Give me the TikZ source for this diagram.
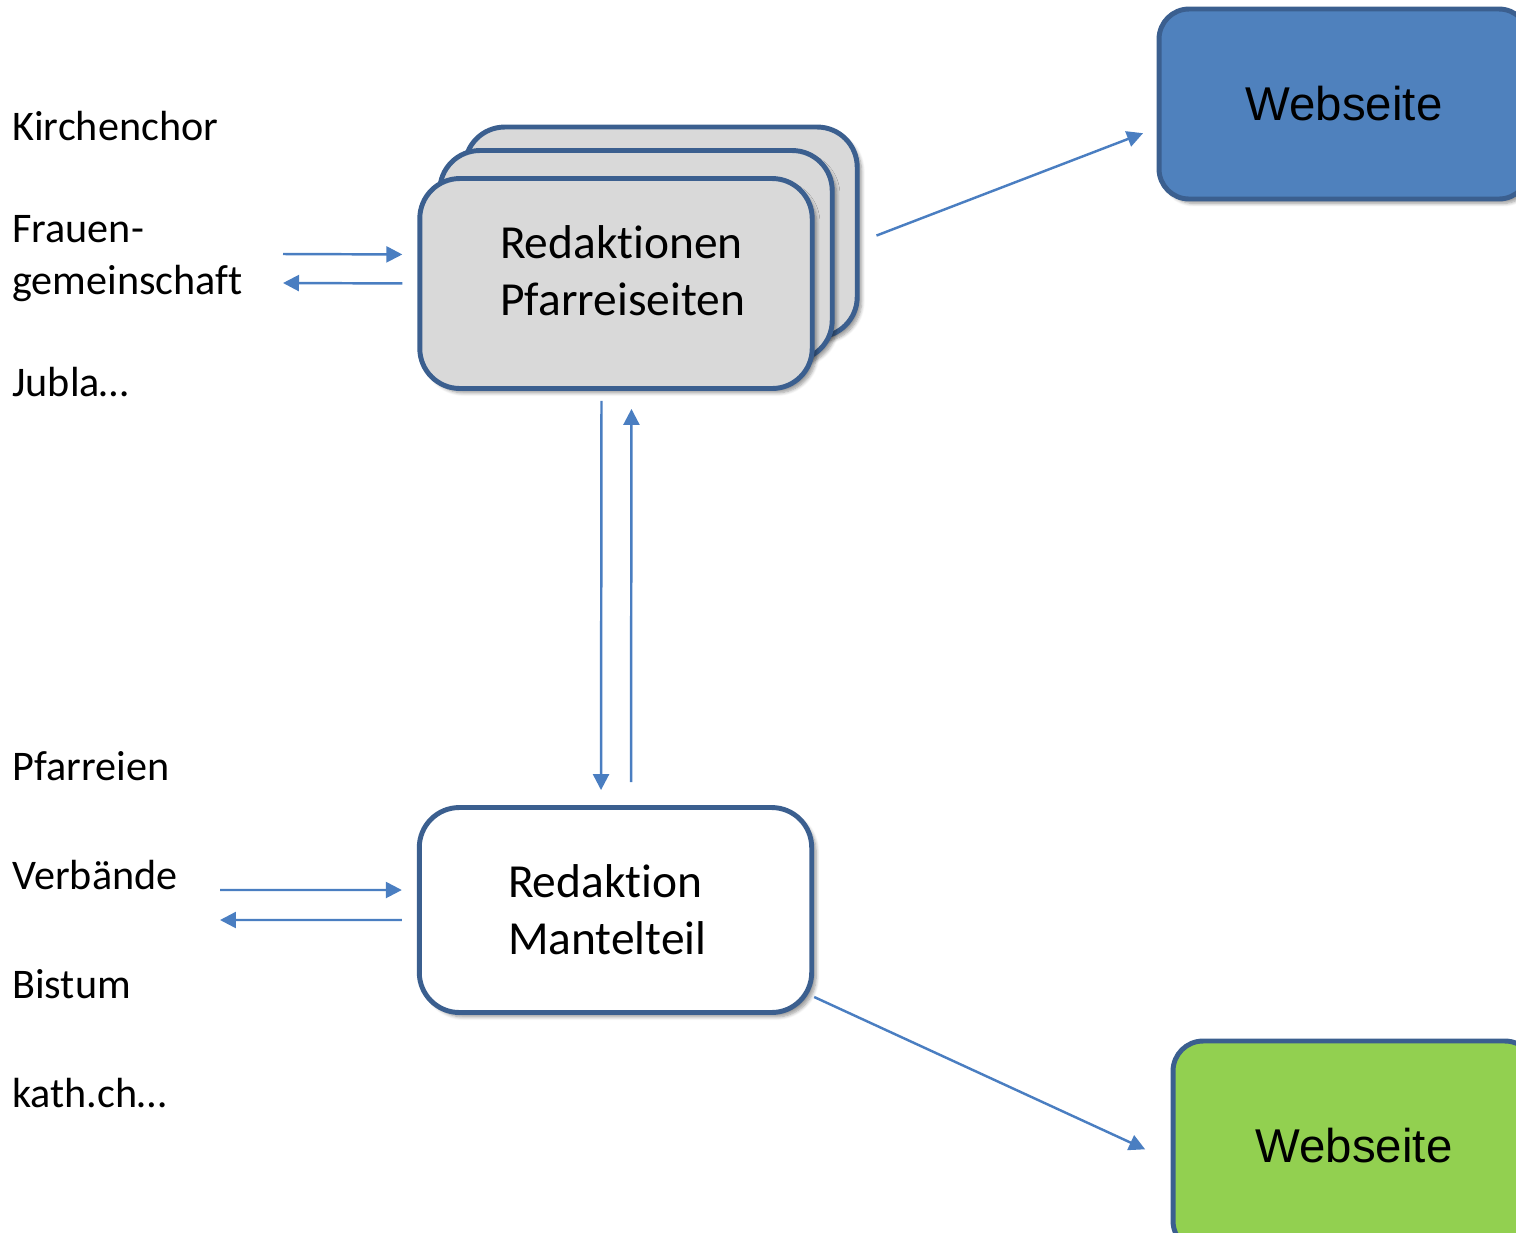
\documentclass[tikz,border=0pt]{standalone}
\usepackage{fontspec}
\setmainfont{Carlito}[Ligatures={NoCommon,NoContextual},RawFeature={-clig;-calt;-dlig}]
\newfontfamily\webfont{Liberation Sans}
\usetikzlibrary{shapes}
\usetikzlibrary{positioning}
\usetikzlibrary{arrows.meta}
\usetikzlibrary{shadows.blur}

\definecolor{boxline}{RGB}{59,95,143}
\definecolor{arrowblue}{RGB}{74,126,193}
\definecolor{boxgray}{RGB}{217,217,217}
\definecolor{webblue}{RGB}{79,129,189}
\definecolor{webgreen}{RGB}{146,208,80}

\begin{document}
\begin{tikzpicture}[x=0.02cm,y=-0.02cm,->,>={Triangle[length=0.32cm,width=0.32cm]},
  edge/.style={draw=arrowblue,line width=1.4pt},
  main node/.style={rectangle,draw=boxline,line width=2.8pt,rounded corners=0.8cm,align=center,
    blur shadow={shadow xshift=2.5pt,shadow yshift=-2.5pt,shadow blur steps=6,shadow opacity=40}},
  redak node/.style={main node,fill=boxgray,minimum width=7.85cm,minimum height=4.2cm,font=\fontsize{27}{32.4}\selectfont},
  web node/.style={main node,rounded corners=0.6cm,font=\webfont\fontsize{27}{32}\selectfont},
  lbl/.style={anchor=base west,inner sep=0pt,align=left,font=\fontsize{24}{29.5}\selectfont}]

	      \clip (0,0) rectangle (1516,1232);
	      \useasboundingbox (0,0) rectangle (1516,1232);

	      % stapel der pfarreiseiten
	      \node[redak node] at (661,232) (pf3) {};
	      \node[redak node] at (636,255.5) (pf2) {};
	      \node[redak node,text depth=1.64cm,text width=4.64cm,align=left] at (616,283.5) (pf) {Redaktionen\\Pfarreiseiten};
	      \node[redak node,fill=white,minimum width=7.85cm,minimum height=4.1cm,text width=4.3cm,align=left] at (615.5,910) (mt) {Redaktion\\Mantelteil};

	      \node[web node,fill=webblue,minimum width=7.4cm,minimum height=3.8cm] at (1344,104) (web1) {Webseite};
	      \node[web node,fill=webgreen,minimum width=7.24cm,minimum height=4.2cm] at (1354,1146) (web2) {Webseite};

	      \node[lbl] at (12,140) (chor) {Kirchenchor};
	      \node[lbl] at (12,294) (frauen) {Frauen-\\gemeinschaft};
	      \node[lbl] at (12,396) (jubla) {Jubla…};
	      \node[lbl] at (12,780) (pfarreien) {Pfarreien};
	      \node[lbl] at (12,889) (verbaende) {Verbände};
	      \node[lbl] at (12,998) (bistum) {Bistum};
	      \node[lbl] at (12,1107) (kath) {kath.ch…};

	      \coordinate (in1) at (283,254);
	      \coordinate (out1) at (283,283);
	      \coordinate (in2) at (220,890);
	      \coordinate (out2) at (220,920);

	      \path
	      (in1) edge[edge,shorten >=0.3cm] ([yshift=0.58cm]pf.west)
	      (pf.west) edge[edge,shorten <=0.3cm] (out1)
	      (in2) edge[edge,shorten >=0.3cm] ([yshift=0.4cm]mt.west)
	      ([yshift=-0.2cm]mt.west) edge[edge,shorten <=0.3cm] (out2)
	      ([xshift=-0.29cm]pf.south) edge[edge,shorten <=0.2cm,shorten >=0.3cm] ([xshift=-0.29cm]mt.north)
	      ([xshift=0.31cm]mt.north) edge[edge,shorten <=0.46cm,shorten >=0.36cm] ([xshift=0.31cm]pf.south)
	      ([yshift=-0.2cm]pf3.east) edge[edge,shorten <=0.36cm,shorten >=0.29cm] ([yshift=-0.48cm]web1.west)
	      ([yshift=-1.74cm]mt.east) edge[edge,shorten >=0.56cm] ([yshift=-0.3cm]web2.west)
	      ;

	    \end{tikzpicture}
\end{document}
